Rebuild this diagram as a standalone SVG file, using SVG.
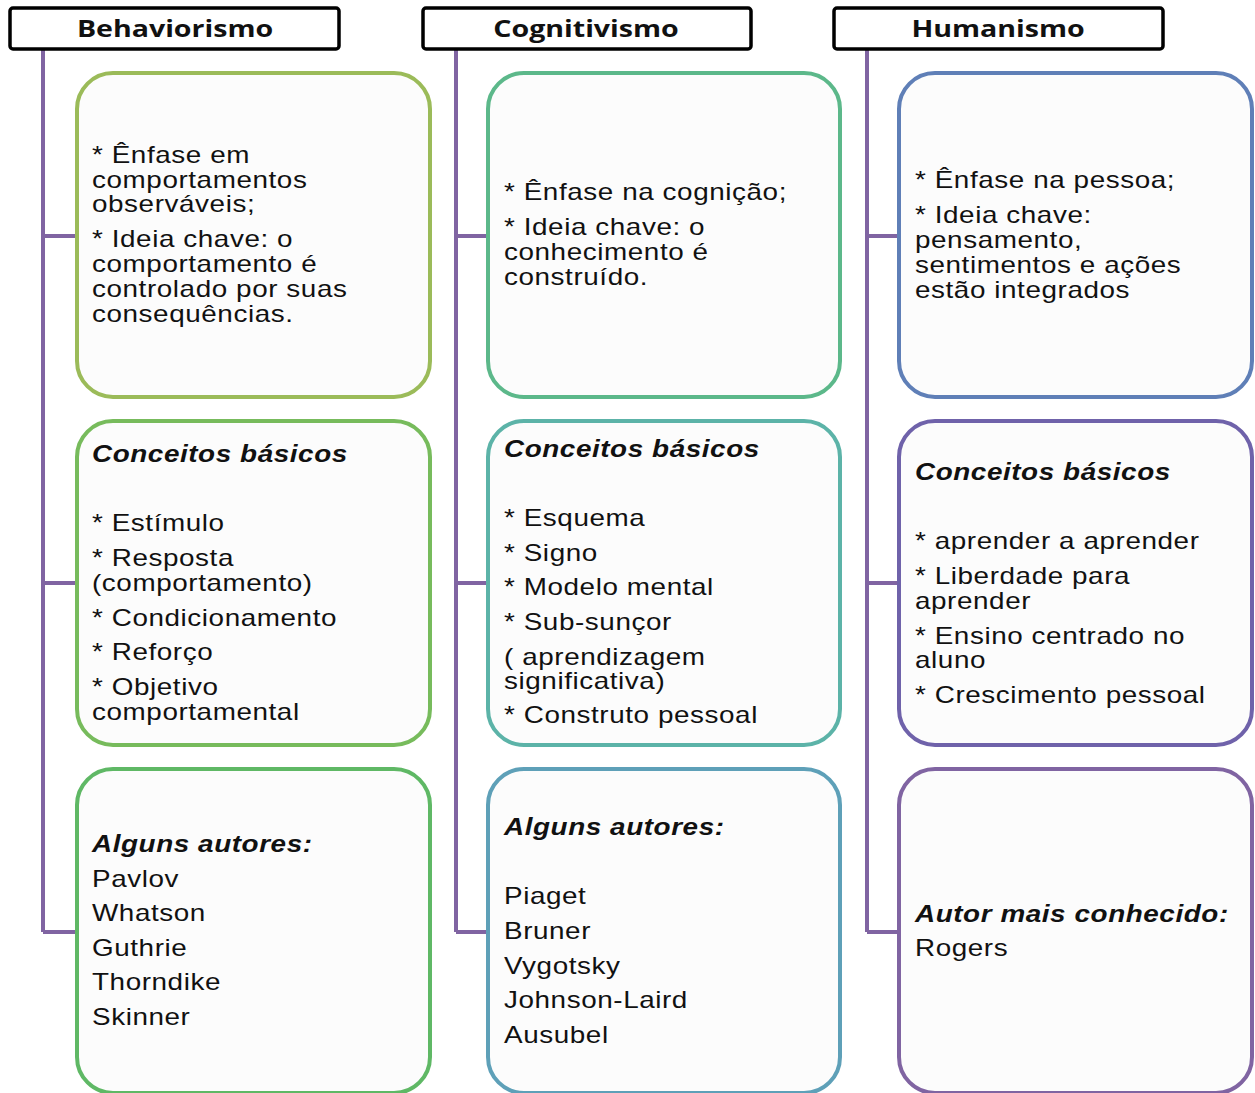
<svg xmlns="http://www.w3.org/2000/svg" width="1255" height="1093" viewBox="0 0 1255 1093">
<style>
.hdr{fill:#fff;stroke:#000;stroke-width:3.5}
.ht{font-family:"Open Sans","Liberation Sans",sans-serif;font-weight:bold;font-size:24px;fill:#111;text-anchor:middle}
.box{fill:#fcfcfc;stroke-width:4}
.t{font-family:"Liberation Sans",Arial,sans-serif;font-size:24px;letter-spacing:0.5px;fill:#111}
.b{font-weight:bold;font-style:italic}
.ln{stroke:#8064a2;stroke-width:4;fill:none}
</style>
<rect width="1255" height="1093" fill="#fff"/>
<g id="connectors">
<path class="ln" d="M43 49V932M43 236H77M43 583H77M43 932H77"/>
<path class="ln" d="M456 49V932M456 236H488M456 583H488M456 932H488"/>
<path class="ln" d="M867 49V932M867 236H899M867 583H899M867 932H899"/>
</g>
<g id="h1"><rect class="hdr" x="10" y="8" width="329" height="41" rx="3"/><text class="ht" transform="translate(175 0) scale(1.19 1)" x="0" y="37">Behaviorismo</text></g>
<g id="h2"><rect class="hdr" x="423" y="8" width="328" height="41" rx="3"/><text class="ht" transform="translate(586 0) scale(1.19 1)" x="0" y="37">Cognitivismo</text></g>
<g id="h3"><rect class="hdr" x="834" y="8" width="329" height="41" rx="3"/><text class="ht" transform="translate(998 0) scale(1.19 1)" x="0" y="37">Humanismo</text></g>

<g id="b1"><rect class="box" stroke="#9bbb59" x="77" y="73" width="353" height="324" rx="36"/>
<text class="t" transform="translate(92 0) scale(1.16 1)"><tspan x="0" y="163">* Ênfase em</tspan><tspan x="0" y="188">comportamentos</tspan><tspan x="0" y="212">observáveis;</tspan><tspan x="0" y="247">* Ideia chave: o</tspan><tspan x="0" y="272">comportamento é</tspan><tspan x="0" y="297">controlado por suas</tspan><tspan x="0" y="322">consequências.</tspan></text></g>
<g id="b2"><rect class="box" stroke="#77bb5c" x="77" y="421" width="353" height="324" rx="36"/>
<text class="t" transform="translate(92 0) scale(1.16 1)"><tspan class="b" x="0" y="462">Conceitos básicos</tspan><tspan x="0" y="531">* Estímulo</tspan><tspan x="0" y="566">* Resposta</tspan><tspan x="0" y="591">(comportamento)</tspan><tspan x="0" y="626">* Condicionamento</tspan><tspan x="0" y="660">* Reforço</tspan><tspan x="0" y="695">* Objetivo</tspan><tspan x="0" y="720">comportamental</tspan></text></g>
<g id="b3"><rect class="box" stroke="#5fb865" x="77" y="769" width="353" height="324" rx="36"/>
<text class="t" transform="translate(92 0) scale(1.16 1)"><tspan class="b" x="0" y="852">Alguns autores:</tspan><tspan x="0" y="887">Pavlov</tspan><tspan x="0" y="921">Whatson</tspan><tspan x="0" y="956">Guthrie</tspan><tspan x="0" y="990">Thorndike</tspan><tspan x="0" y="1025">Skinner</tspan></text></g>

<g id="c1"><rect class="box" stroke="#5cb88a" x="488" y="73" width="352" height="324" rx="36"/>
<text class="t" transform="translate(504 0) scale(1.16 1)"><tspan x="0" y="200">* Ênfase na cognição;</tspan><tspan x="0" y="235">* Ideia chave: o</tspan><tspan x="0" y="260">conhecimento é</tspan><tspan x="0" y="285">construído.</tspan></text></g>
<g id="c2"><rect class="box" stroke="#5cb3a8" x="488" y="421" width="352" height="324" rx="36"/>
<text class="t" transform="translate(504 0) scale(1.16 1)"><tspan class="b" x="0" y="457">Conceitos básicos</tspan><tspan x="0" y="526">* Esquema</tspan><tspan x="0" y="561">* Signo</tspan><tspan x="0" y="595">* Modelo mental</tspan><tspan x="0" y="630">* Sub-sunçor</tspan><tspan x="0" y="665">( aprendizagem</tspan><tspan x="0" y="689">significativa)</tspan><tspan x="0" y="723">* Construto pessoal</tspan></text></g>
<g id="c3"><rect class="box" stroke="#5ea0b8" x="488" y="769" width="352" height="324" rx="36"/>
<text class="t" transform="translate(504 0) scale(1.16 1)"><tspan class="b" x="0" y="835">Alguns autores:</tspan><tspan x="0" y="904">Piaget</tspan><tspan x="0" y="939">Bruner</tspan><tspan x="0" y="974">Vygotsky</tspan><tspan x="0" y="1008">Johnson-Laird</tspan><tspan x="0" y="1043">Ausubel</tspan></text></g>

<g id="d1"><rect class="box" stroke="#5f7fb7" x="899" y="73" width="353" height="324" rx="36"/>
<text class="t" transform="translate(915 0) scale(1.16 1)"><tspan x="0" y="188">*  Ênfase na pessoa;</tspan><tspan x="0" y="223">* Ideia chave:</tspan><tspan x="0" y="248">pensamento,</tspan><tspan x="0" y="273">sentimentos e ações</tspan><tspan x="0" y="298">estão integrados</tspan></text></g>
<g id="d2"><rect class="box" stroke="#6f62aa" x="899" y="421" width="353" height="324" rx="36"/>
<text class="t" transform="translate(915 0) scale(1.16 1)"><tspan class="b" x="0" y="480">Conceitos básicos</tspan><tspan x="0" y="549">* aprender a aprender</tspan><tspan x="0" y="584">* Liberdade para</tspan><tspan x="0" y="609">aprender</tspan><tspan x="0" y="644">* Ensino centrado no</tspan><tspan x="0" y="668">aluno</tspan><tspan x="0" y="703">* Crescimento pessoal</tspan></text></g>
<g id="d3"><rect class="box" stroke="#8064a2" x="899" y="769" width="353" height="324" rx="36"/>
<text class="t" transform="translate(915 0) scale(1.16 1)"><tspan class="b" x="0" y="922">Autor mais conhecido:</tspan><tspan x="0" y="956">Rogers</tspan></text></g>
</svg>
